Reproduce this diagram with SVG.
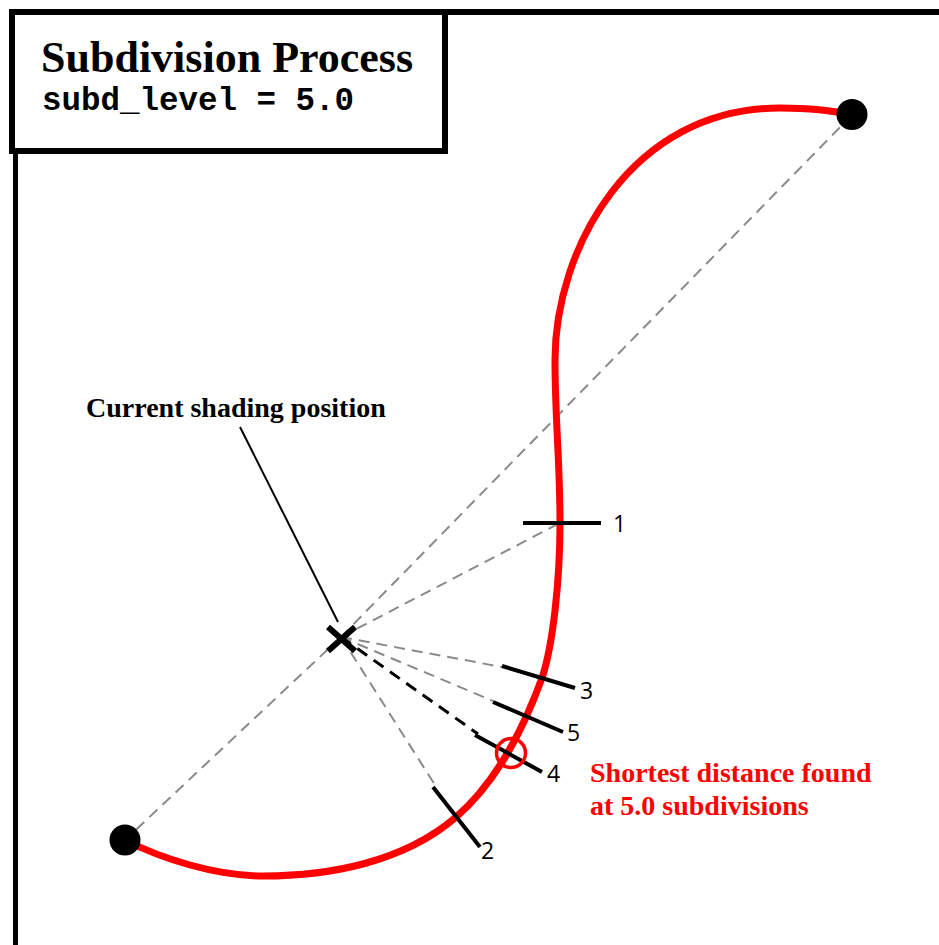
<svg xmlns="http://www.w3.org/2000/svg" width="939" height="945" viewBox="0 0 939 945">
<style>
.frame{fill:none;stroke:#000;stroke-width:6}
.serif{font-family:"Liberation Serif","Times New Roman",serif;font-weight:bold}
.num{font-family:"Open Sans","Noto Sans","DejaVu Sans",sans-serif;font-size:23px;fill:#000}
.gd{stroke:#8a8a8a;stroke-width:2;stroke-dasharray:11 7;fill:none}
.bd{stroke:#000;stroke-width:3;stroke-dasharray:12 8;fill:none}
.tick{stroke:#000;stroke-width:4;stroke-linecap:butt}
</style>
<rect width="939" height="945" fill="#fff"/>
<g id="frame">
<line x1="9" y1="12" x2="939" y2="12" stroke="#000" stroke-width="6"/>
<line x1="15.5" y1="148" x2="15.5" y2="945" stroke="#000" stroke-width="5"/>
</g>
<g id="title-box">
<rect class="frame" x="12" y="12" width="433" height="139"/>
<text class="serif" x="41" y="72" font-size="44">Subdivision Process</text>
<text x="42" y="110" font-family="'Liberation Mono','Courier New',monospace" font-weight="bold" font-size="32.5">subd_level = 5.0</text>
</g>
<g id="connectors">
<line class="gd" x1="341" y1="637" x2="125" y2="840"/>
<line class="gd" x1="341" y1="637" x2="852" y2="115"/>
<line class="gd" x1="341" y1="637" x2="556" y2="525"/>
<line class="gd" x1="341" y1="637" x2="502" y2="667"/>
<line class="gd" x1="341" y1="637" x2="493" y2="701"/>
<line class="gd" x1="341" y1="637" x2="435" y2="785"/>
<line class="bd" x1="341" y1="637" x2="478" y2="734"/>
<line x1="240" y1="427" x2="338" y2="622" stroke="#000" stroke-width="2"/>
</g>
<g id="curve">
<path d="M125,840 C160,858 215,876 263,876 C330,876 403,862 455,818 C497,782 523,730 542,678 C553,645 560,580 560,523 C560,460 555,420 555,360 C555,250 630,108 780,108 C810,108 835,111 852,115" fill="none" stroke="#ff0000" stroke-width="7"/>
</g>
<g id="ticks">
<line class="tick" x1="523" y1="523" x2="601" y2="523"/>
<line class="tick" x1="502" y1="666" x2="575" y2="688"/>
<line class="tick" x1="493" y1="702" x2="563" y2="732"/>
<line class="tick" x1="475" y1="735" x2="542" y2="772"/>
<line class="tick" x1="433" y1="787" x2="480" y2="847"/>
<text class="num" x="613" y="532">1</text>
<text class="num" x="481" y="859">2</text>
<text class="num" x="580" y="699">3</text>
<text class="num" x="547" y="782">4</text>
<text class="num" x="567" y="741">5</text>
</g>
<g id="start-point"><circle cx="125" cy="840" r="15.5" fill="#000"/></g>
<g id="end-point"><circle cx="852" cy="114.5" r="15.5" fill="#000"/></g>
<g id="shading-position">
<path d="M328,627 L355,651 M355,627 L328,651" stroke="#000" stroke-width="6" fill="none"/>
<text class="serif" x="86" y="417" font-size="28">Current shading position</text>
</g>
<g id="shortest">
<circle cx="511" cy="753" r="14.5" fill="none" stroke="#ff0000" stroke-width="3.5"/>
<text class="serif" fill="#ff0000" font-size="28"><tspan x="590" y="782">Shortest distance found</tspan><tspan x="590" y="815">at 5.0 subdivisions</tspan></text>
</g>
</svg>
